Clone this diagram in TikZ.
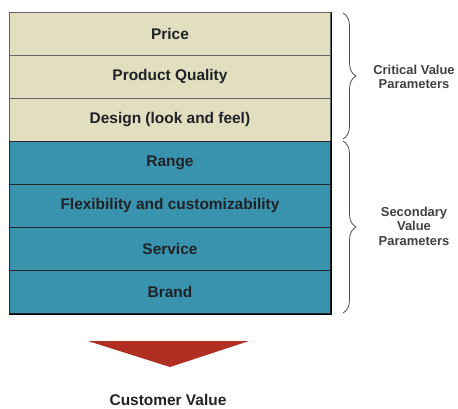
\documentclass[tikz,border=0pt]{standalone}
\usepackage{fontspec}
\setmainfont{Liberation Sans}
\usetikzlibrary{decorations.pathreplacing}
\definecolor{beige}{HTML}{E1DFC0}
\definecolor{tealrow}{HTML}{3A93AE}
\definecolor{arrowred}{HTML}{B02F22}
\definecolor{inktext}{HTML}{1E2226}
\begin{document}
\begin{tikzpicture}[x=1bp,y=-1bp,
  row/.style={line width=0.9bp, minimum width=321bp, minimum height=43bp,
    inner sep=0pt, anchor=north west, text=inktext,
    font=\bfseries\fontsize{15.5}{18}\selectfont},
  crit/.style={row, draw=black!60, fill=beige},
  sec/.style={row, draw=black!85, fill=tealrow},
  sidelabel/.style={font=\bfseries\fontsize{13}{14.5}\selectfont, align=center, text=black!75},
  bracestyle/.style={draw=black!70, line width=0.8bp, decorate, decoration={brace, amplitude=13bp}},
  shadowline/.style={draw=black, line width=1.8bp}]
\useasboundingbox (0,0) rectangle (458,408);
\node[crit] (price)   at (9,12)  {Price};
\node[crit] (quality) at (9,55)  {Product Quality};
\node[crit] (design)  at (9,98)  {Design (look and feel)};
\node[sec]  (range)   at (9,141) {Range};
\node[sec]  (flex)    at (9,184) {Flexibility and customizability};
\node[sec]  (service) at (9,227) {Service};
\node[sec]  (brand)   at (9,270) {Brand};
% shadow edges
\draw[shadowline] ([xshift=0.6bp]price.north east) -- ([xshift=0.6bp,yshift=-0.6bp]brand.south east) -- ([yshift=-0.6bp]brand.south west);
% braces
\coordinate (b1top) at (343,13);
\coordinate (b1bot) at (343,139);
\coordinate (b2top) at (343,141);
\coordinate (b2bot) at (343,313);
\draw[bracestyle] (b1top) -- (b1bot);
\draw[bracestyle] (b2top) -- (b2bot);
\node[sidelabel] (critlbl) at (414,77) {Critical Value\\Parameters};
\node[sidelabel] (seclbl)  at (414,226) {Secondary\\Value\\Parameters};
% arrow
\coordinate (arL) at (88,341);
\coordinate (arR) at (249,341);
\coordinate (arT) at (170,367);
\fill[arrowred] (arL) -- (arR) -- (arT) -- cycle;
\node[font=\bfseries\fontsize{15.5}{18}\selectfont, text=inktext, inner sep=0pt] (cv) at (168,399.5) {Customer Value};
\end{tikzpicture}
\end{document}
